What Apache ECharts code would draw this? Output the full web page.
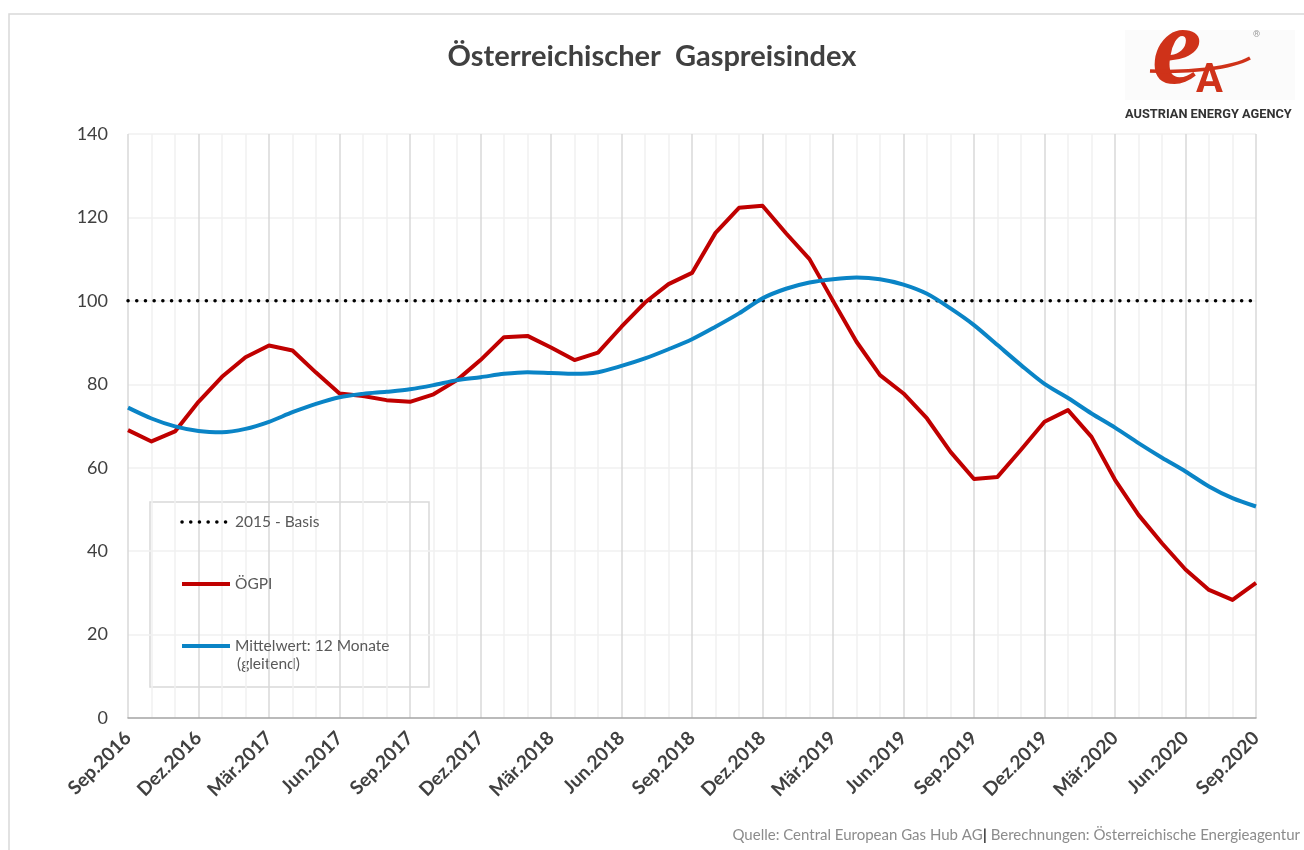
<!DOCTYPE html>
<html>
<head>
<meta charset="utf-8">
<script src="https://cdn.jsdelivr.net/npm/echarts@6/dist/echarts.min.js"></script>
<style>
html,body{margin:0;padding:0;background:#fff;}
#main{width:1304px;height:850px;}
</style>
</head>
<body>
<div id="main"></div>
<script>
// Monate Sep.2016 - Sep.2020
var months = ['Sep.2016','Okt.2016','Nov.2016','Dez.2016','Jän.2017','Feb.2017','Mär.2017','Apr.2017','Mai.2017','Jun.2017','Jul.2017','Aug.2017',
  'Sep.2017','Okt.2017','Nov.2017','Dez.2017','Jän.2018','Feb.2018','Mär.2018','Apr.2018','Mai.2018','Jun.2018','Jul.2018','Aug.2018',
  'Sep.2018','Okt.2018','Nov.2018','Dez.2018','Jän.2019','Feb.2019','Mär.2019','Apr.2019','Mai.2019','Jun.2019','Jul.2019','Aug.2019',
  'Sep.2019','Okt.2019','Nov.2019','Dez.2019','Jän.2020','Feb.2020','Mär.2020','Apr.2020','Mai.2020','Jun.2020','Jul.2020','Aug.2020',
  'Sep.2020'];

var basis = [100,100,100,100,100,100,100,100,100,100,100,100,
  100,100,100,100,100,100,100,100,100,100,100,100,
  100,100,100,100,100,100,100,100,100,100,100,100,
  100,100,100,100,100,100,100,100,100,100,100,100,
  100];

var oegpi = [69.0,66.3,68.7,75.8,81.8,86.5,89.3,88.1,82.8,77.8,
  77.2,76.2,75.8,77.6,81.0,85.8,91.3,91.6,88.8,85.8,
  87.6,93.8,99.6,104.0,106.7,116.3,122.3,122.8,116.2,110.0,
  100.0,90.2,82.2,77.8,71.8,63.8,57.3,57.8,64.3,71.0,
  73.8,67.4,57.1,48.7,41.9,35.6,30.7,28.3,32.4];

var mittel12 = [74.4,71.8,69.9,68.8,68.5,69.3,71.0,73.3,75.3,76.9,
  77.7,78.2,78.8,79.8,81.0,81.7,82.5,82.9,82.7,82.5,
  82.9,84.4,86.2,88.4,90.8,93.8,97.0,100.6,102.9,104.4,
  105.2,105.6,105.2,103.9,101.7,98.2,94.2,89.4,84.6,80.1,
  76.7,73.0,69.6,65.9,62.4,59.1,55.5,52.7,50.7];

var yMin = 0, yMax = 140, yStep = 20;
var font = 'Lato';
var dotted = {color: '#000', width: 3.5, type: [0.1, 8.6], cap: 'round'};

window.onload = function () {
  var myChart = echarts.init(document.getElementById('main'));
  myChart.setOption({
    animation: false,
    backgroundColor: '#fff',
    title: {
      text: 'Österreichischer  Gaspreisindex',
      left: 'center',
      top: 37,
      textStyle: {fontFamily: font, fontSize: 29, fontWeight: 'bold', color: '#404040'}
    },
    grid: {left: 128, right: 48, top: 134, bottom: 132, containLabel: false},
    legend: {
      orient: 'vertical',
      left: 180,
      top: 514,
      z: 20,
      itemWidth: 48,
      itemHeight: 16,
      itemGap: 46,
      padding: 0,
      itemStyle: {opacity: 0},
      textStyle: {fontFamily: font, fontSize: 15.5, color: '#595959', lineHeight: 16},
      data: [
        {name: '2015 - Basis', lineStyle: dotted},
        {name: 'ÖGPI', lineStyle: {color: '#c00000', width: 4, type: 'solid'}},
        {name: 'Mittelwert: 12 Monate', lineStyle: {color: '#0a84c6', width: 4, type: 'solid'}}
      ]
    },
    xAxis: {
      type: 'category',
      data: months,
      boundaryGap: false,
      axisLine: {show: true, lineStyle: {color: '#a6a6a6', width: 1.5}},
      axisTick: {show: false},
      axisLabel: {
        interval: 2,
        rotate: 45,
        margin: 17,
        fontFamily: font,
        fontSize: 19,
        fontWeight: 'bold',
        color: '#404040'
      },
      splitLine: {
        show: true,
        interval: 0,
        lineStyle: {color: ['#d9d9d9', '#f0f0f0', '#f0f0f0'], width: 1.5}
      }
    },
    yAxis: {
      type: 'value',
      min: yMin,
      max: yMax,
      interval: yStep,
      axisLine: {show: false},
      axisTick: {show: false},
      axisLabel: {fontFamily: font, fontSize: 18, color: '#404040', margin: 20},
      splitLine: {lineStyle: {color: '#f0f0f0', width: 1.5}}
    },
    series: [{
      name: '2015 - Basis',
      type: 'line',
      data: basis,
      symbol: 'none',
      z: 3,
      lineStyle: dotted,
      itemStyle: {color: '#000'}
    }, {
      name: 'ÖGPI',
      type: 'line',
      data: oegpi,
      symbol: 'none',
      z: 4,
      lineStyle: {color: '#c00000', width: 4, join: 'round'},
      itemStyle: {color: '#c00000'}
    }, {
      name: 'Mittelwert: 12 Monate',
      type: 'line',
      data: mittel12,
      symbol: 'none',
      smooth: 0.3,
      z: 5,
      lineStyle: {color: '#0a84c6', width: 4},
      itemStyle: {color: '#0a84c6'}
    }],
    graphic: {
      z: 10,
      elements: [
        // Rahmen
        {type: 'rect', shape: {x: 9, y: 14, width: 1400, height: 900}, style: {fill: 'none', stroke: '#d9d9d9', lineWidth: 1.5}},
        // Legendenrahmen
        {type: 'rect', shape: {x: 150, y: 502, width: 279, height: 185}, style: {fill: '#fff', stroke: '#d9d9d9', lineWidth: 1.5}},
        {type: 'text', left: 237, top: 656,
          style: {text: '(gleitend)', fontFamily: font, fontSize: 15.5, fill: '#595959'}},
        // Logo
        {type: 'rect', shape: {x: 1125, y: 30, width: 170, height: 70}, style: {fill: '#fbfbfb'}},
        {type: 'text', left: 1152, top: -2,
          style: {text: 'e', fontFamily: 'Liberation Serif', fontStyle: 'italic', fontWeight: 'bold', fontSize: 112, fill: '#cf3219'}},
        {type: 'bezierCurve', shape: {x1: 1150, y1: 71, x2: 1250, y2: 58, cpx1: 1190, cpy1: 73, cpx2: 1232, cpy2: 68},
          style: {stroke: '#cf3219', lineWidth: 3.5, fill: 'none'}},
        {type: 'text', left: 1196, top: 62,
          style: {text: 'A', fontFamily: 'Roboto', fontWeight: 'bold', fontSize: 40, fill: '#cf3219'}},
        {type: 'text', left: 1253, top: 30,
          style: {text: '®', fontFamily: 'Roboto', fontSize: 9, fill: '#999'}},
        {type: 'text', left: 1125, top: 108,
          style: {text: 'AUSTRIAN ENERGY AGENCY', fontFamily: 'Roboto', fontWeight: 'bold', fontSize: 12.8, fill: '#333'}},
        // Quelle
        {type: 'text', right: 4, top: 827,
          style: {
            text: '{a|Quelle: Central European Gas Hub AG}{b||}{a| Berechnungen: Österreichische Energieagentur}',
            rich: {
              a: {fontFamily: font, fontSize: 15, fill: '#8c8c8c'},
              b: {fontFamily: font, fontSize: 16, fontWeight: 'bold', fill: '#404040'}
            }
          }}
      ]
    }
  });
};
</script>
</body>
</html>
